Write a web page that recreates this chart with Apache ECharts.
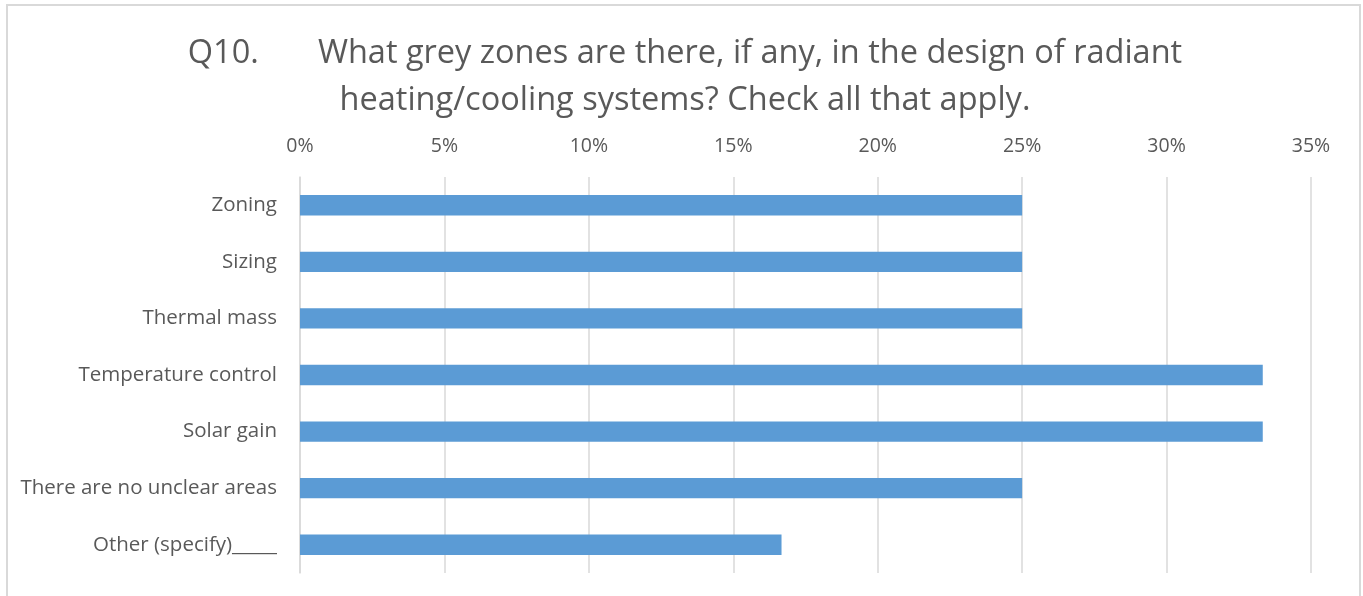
<!DOCTYPE html>
<html>
<head>
<meta charset="utf-8">
<script src="https://cdn.jsdelivr.net/npm/echarts@6/dist/echarts.min.js"></script>
<style>
  html, body { margin: 0; padding: 0; background: #fff; }
  #chart { width: 1363px; height: 596px; }
</style>
</head>
<body>
<div id="chart"></div>
<script>
const categories = ['Zoning', 'Sizing', 'Thermal mass', 'Temperature control', 'Solar gain', 'There are no unclear areas', 'Other (specify)_____']
const values = [25, 25, 25, 33.33, 33.33, 25, 16.67]
const tickMax = 35
const tickStep = 5

let myChart = echarts.init(document.getElementById('chart'))
let option = {
  animation: false,
  title: {
    text: 'Q10.       What grey zones are there, if any, in the design of radiant\nheating/cooling systems? Check all that apply.',
    left: 680,
    top: 25,
    textAlign: 'center',
    textStyle: {
      color: '#595959',
      fontFamily: 'Open Sans',
      fontWeight: 'normal',
      fontSize: 32.5,
      lineHeight: 47,
    },
  },
  graphic: [
    {
      type: 'rect',
      silent: true,
      shape: { x: 7, y: 5, width: 1353, height: 600 },
      style: { fill: 'none', stroke: '#d9d9d9', lineWidth: 2 },
    },
  ],
  grid: {
    left: 300,
    right: 52,
    top: 177,
    bottom: 23,
  },
  xAxis: {
    type: 'value',
    position: 'top',
    min: 0,
    max: tickMax,
    interval: tickStep,
    axisLine: { show: false },
    axisTick: { show: false },
    axisLabel: {
      color: '#595959',
      fontFamily: 'Open Sans',
      fontSize: 19.5,
      margin: 21,
      formatter: '{value}%',
    },
    splitLine: {
      lineStyle: { color: '#d9d9d9', width: 1.5 },
    },
  },
  yAxis: {
    type: 'category',
    inverse: true,
    data: categories,
    axisLine: { show: true, lineStyle: { color: '#d9d9d9', width: 1.5 } },
    axisTick: { show: false },
    axisLabel: {
      color: '#595959',
      fontFamily: 'Open Sans',
      fontSize: 20.5,
      margin: 23,
    },
  },
  series: [
    {
      type: 'bar',
      data: values,
      barWidth: '36%',
      itemStyle: { color: '#5b9bd5' },
    },
  ],
}
option && myChart.setOption(option)
</script>
</body>
</html>
